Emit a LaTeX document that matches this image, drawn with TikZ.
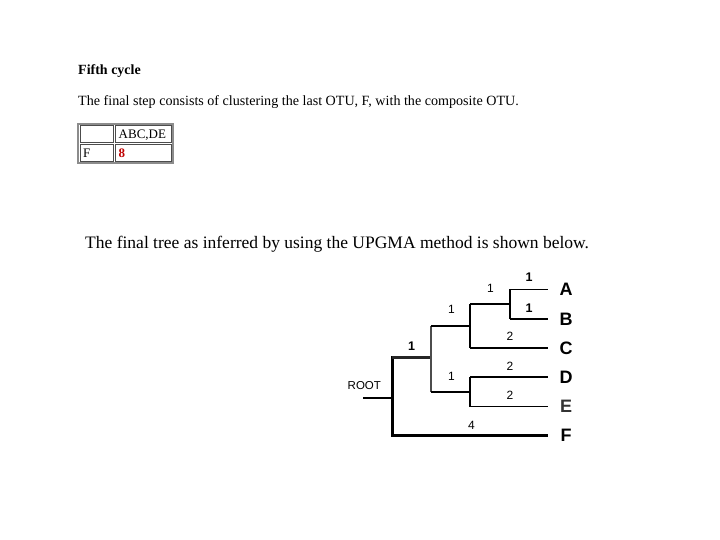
\documentclass[tikz,border=0pt]{standalone}
\usepackage{fontspec}
\setmainfont{Liberation Serif}
\setsansfont{Liberation Sans}
\begin{document}
\begin{tikzpicture}[x=1pt,y=-1pt,
  txt/.style={inner sep=0pt,anchor=base west,font=\fontsize{14.1}{16}\selectfont},
  ttxt/.style={inner sep=0pt,anchor=base west,font=\fontsize{13}{15}\selectfont},
  big/.style={inner sep=0pt,anchor=base west,font=\fontsize{17.5}{20}\selectfont},
  cell/.style={draw=black!70,line width=0.9pt},
  num/.style={inner sep=0pt,font=\sffamily\fontsize{12}{14}\selectfont},
  bnum/.style={inner sep=0pt,font=\sffamily\bfseries\fontsize{12.5}{14}\selectfont},
  leaf/.style={inner sep=0pt,font=\sffamily\bfseries\fontsize{18}{20}\selectfont},
  thick3/.style={line width=3pt},
  med/.style={line width=2pt},
  thin1/.style={line width=1.2pt}]
\useasboundingbox (0,0) rectangle (720,540);
\fill[white] (0,0) rectangle (720,540);
% heading
\node[txt,font=\bfseries\fontsize{14}{16}\selectfont] (h) at (78,75) {Fifth cycle};
\node[txt] (s1) at (78,105.5) {The final step consists of clustering the last OTU, F, with the composite OTU.};
% table
\draw[draw=black!45,line width=2pt] (78.3,123.7) rectangle (173.3,163.3);
\draw[cell] (80,125) rectangle (113,142);
\draw[cell] (115.5,125) rectangle (171.5,142);
\draw[cell] (80,144) rectangle (113,161.8);
\draw[cell] (115.5,144) rectangle (171.5,161.8);
\node[ttxt] (t1) at (118.5,138.5) {ABC,DE};
\node[ttxt] (t2) at (83,157.5) {F};
\node[ttxt,text=red!75!black,font=\bfseries\fontsize{13}{15}\selectfont] (t3) at (118.5,157.5) {8};
% sentence 2
\node[big] (s2) at (85,248) {The final tree as inferred by using the UPGMA method is shown below.};
% tree
\coordinate (rs) at (363,398);
\coordinate (r) at (392,398);
\coordinate (rt) at (392,357.7);
\coordinate (rb) at (392,435);
\coordinate (n1) at (431,357.7);
\coordinate (n1t) at (431,325.7);
\coordinate (n1b) at (431,391.7);
\coordinate (n2) at (470,325.7);
\coordinate (n2t) at (470,304);
\coordinate (n2b) at (470,347.7);
\coordinate (n3) at (470,391.7);
\coordinate (n3t) at (470,376.7);
\coordinate (n3b) at (470,406.7);
\coordinate (n4) at (510,304);
\coordinate (n4t) at (510,289.3);
\coordinate (n4b) at (510,319.3);
\coordinate (ea) at (548,289.3);
\coordinate (eb) at (548,319.3);
\coordinate (ec) at (548,347.7);
\coordinate (ed) at (548,376.7);
\coordinate (ee) at (548,406.7);
\coordinate (ef) at (548,435);
\node[inner sep=0pt,anchor=base west,font=\sffamily\fontsize{11.5}{13}\selectfont] (root) at (347.5,389.5) {ROOT};
\draw[med] (rs) -- (r);
\draw[thick3,line cap=rect] (rt) -- (rb);
\draw[thick3,draw=black!85] (rt) -- (n1);
\draw[thick3] (rb) -- (ef);
\draw[med,draw=black!70] (n1t) -- (n1b);
\draw[med] (n1t) -- (n2);
\draw[med] (n1b) -- (n3);
\draw[thin1] (n2t) -- (n2b);
\draw[thin1] (n2t) -- (n4);
\draw[med] (n2b) -- (ec);
\draw[thin1] (n3t) -- (n3b);
\draw[med] (n3t) -- (ed);
\draw[thin1] (n3b) -- (ee);
\draw[med] (n4t) -- (n4b);
\draw[thin1] (n4t) -- (ea);
\draw[med] (n4b) -- (eb);
% labels
\node[bnum] (l1) at (411.5,346.5) {1};
\node[num] (l4) at (471.5,425) {4};
\node[num] (l2) at (451.5,309.5) {1};
\node[num] (l3) at (451.5,376.5) {1};
\node[num] (l5) at (490.5,288.5) {1};
\node[bnum] (l6) at (529,277.5) {1};
\node[bnum] (l7) at (529,308.5) {1};
\node[num] (l8) at (510,336) {2};
\node[num] (l9) at (510,366) {2};
\node[num] (l10) at (510,395) {2};
\node[leaf] (A) at (566,289.5) {A};
\node[leaf] (B) at (566,319) {B};
\node[leaf] (C) at (566,348) {C};
\node[leaf] (D) at (566,377) {D};
\node[leaf,text=black!80] (E) at (566,406) {E};
\node[leaf] (F) at (566,435) {F};
\end{tikzpicture}
\end{document}
